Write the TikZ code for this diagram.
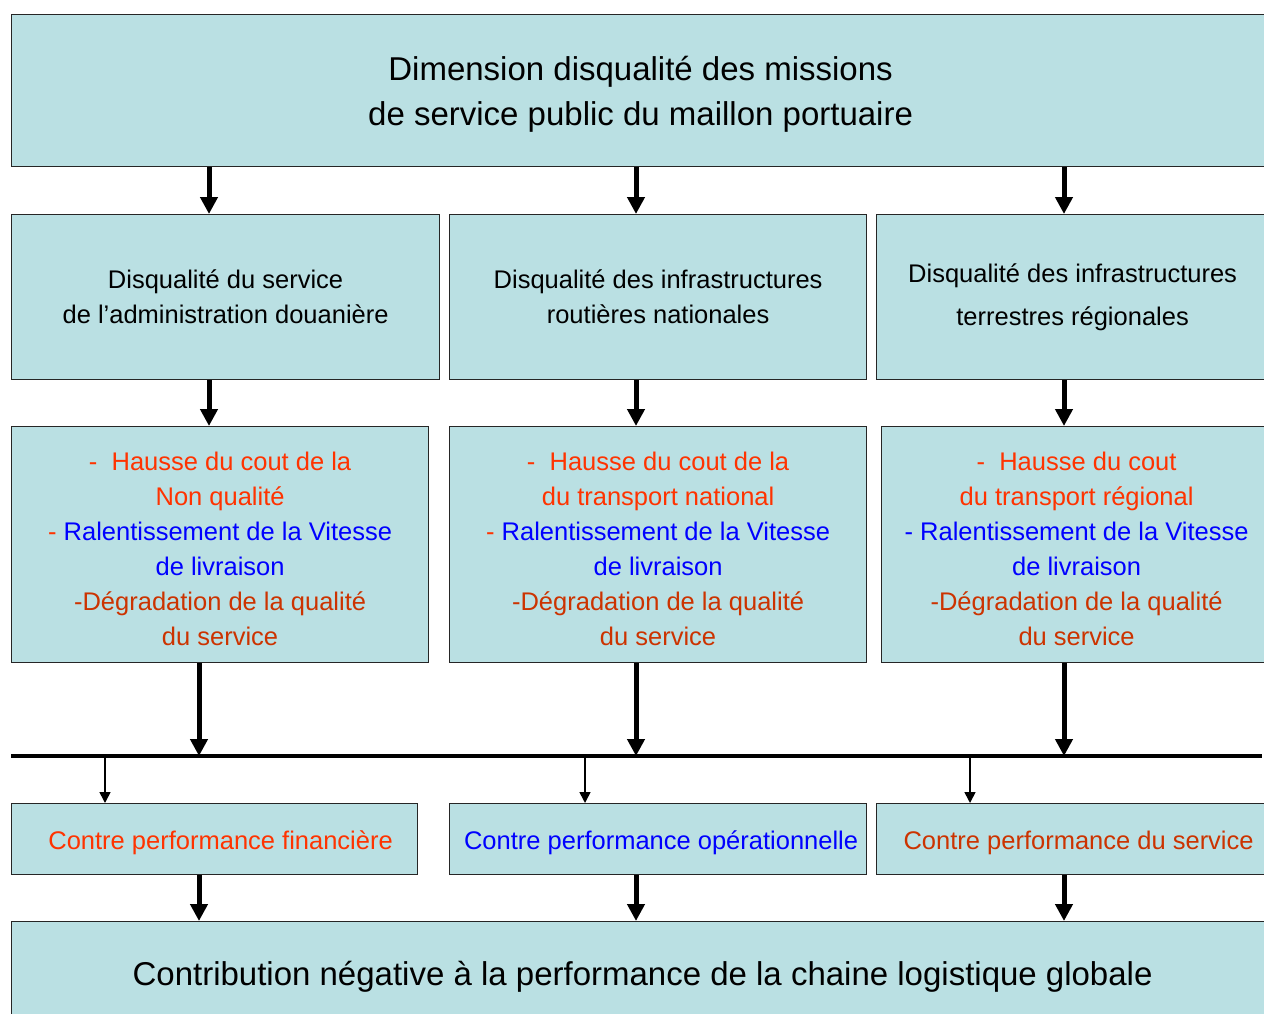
\documentclass[tikz,border=0pt]{standalone}
\usepackage{fontspec}
\setmainfont{Liberation Sans}
\usetikzlibrary{arrows.meta}
\definecolor{boxfill}{RGB}{186,224,227}
\definecolor{redA}{RGB}{255,51,0}
\definecolor{redB}{RGB}{204,51,0}
\definecolor{blueA}{RGB}{0,0,255}
\begin{document}
\begin{tikzpicture}[x=1pt,y=-1pt,
  box/.style={draw=black!85,line width=1.2pt,fill=boxfill,inner sep=0pt,align=center,anchor=north west},
  big/.style={font=\fontsize{33}{45}\selectfont},
  mid/.style={font=\fontsize{25.5}{35}\selectfont},
  lower/.style={execute at begin node={\rule{0pt}{#1}}},
  thickarr/.style={line width=5pt,-{Triangle[length=17pt,width=17pt]}},
  thinarr/.style={line width=1.6pt,-{Triangle[length=11pt,width=11pt]}},
  bus/.style={line width=4.5pt}]
\useasboundingbox (0,0) rectangle (1264,1014);
\clip (0,0) rectangle (1264,1014);
\fill[white] (0,0) rectangle (1264,1014);
% boxes
\node[box,big,minimum width=1258pt,minimum height=152pt] (top) at (11,14)
  {\rule{0pt}{32pt}Dimension disqualité des missions\\de service public du maillon portuaire};
\node[box,mid,minimum width=428pt,minimum height=165pt] (r2a) at (11,214)
  {Disqualité du service\\de l’administration douanière};
\node[box,mid,minimum width=417pt,minimum height=165pt] (r2b) at (449,214)
  {Disqualité des infrastructures\\routières nationales};
\node[box,font=\fontsize{25.5}{43}\selectfont,minimum width=392pt,minimum height=165pt] (r2c) at (876,214)
  {Disqualité des infrastructures\\terrestres régionales};
\node[box,mid,minimum width=417pt,minimum height=236pt] (r3a) at (11,426)
  {\rule{0pt}{28pt}{\color{redA}-\ \ Hausse du cout de la}\\{\color{redA}Non qualité}\\{\color{redA}-} {\color{blueA}Ralentissement de la Vitesse}\\{\color{blueA}de livraison}\\{\color{redB}-Dégradation de la qualité}\\{\color{redB}du service}};
\node[box,mid,minimum width=417pt,minimum height=236pt] (r3b) at (449,426)
  {\rule{0pt}{28pt}{\color{redA}-\ \ Hausse du cout de la}\\{\color{redA}du transport national}\\{\color{redA}-} {\color{blueA}Ralentissement de la Vitesse}\\{\color{blueA}de livraison}\\{\color{redB}-Dégradation de la qualité}\\{\color{redB}du service}};
\node[box,mid,minimum width=390pt,minimum height=236pt] (r3c) at (881,426)
  {\rule{0pt}{28pt}{\color{redA}-\ \ Hausse du cout}\\{\color{redA}du transport régional}\\{\color{blueA}- Ralentissement de la Vitesse}\\{\color{blueA}de livraison}\\{\color{redB}-Dégradation de la qualité}\\{\color{redB}du service}};
\node[box,mid,lower=27pt,minimum width=406pt,minimum height=71pt] (r4a) at (11,803)
  {\hspace*{12pt}{\color{redA}Contre performance financière}};
\node[box,mid,lower=27pt,minimum width=417pt,minimum height=71pt] (r4b) at (449,803)
  {\hspace*{6pt}{\color{blueA}Contre performance opérationnelle}};
\node[box,mid,lower=27pt,minimum width=404pt,minimum height=71pt] (r4c) at (876,803)
  {{\color{redB}Contre performance du service}};
\node[box,big,lower=31pt,minimum width=1262pt,minimum height=104pt] (bot) at (11,921)
  {Contribution négative à la performance de la chaine logistique globale};
% arrow columns
\coordinate (xa) at (209,0);
\coordinate (xb) at (636,0);
\coordinate (xc) at (1064,0);
\coordinate (ya) at (199,0);
\coordinate (ta) at (105,0);
\coordinate (tb) at (585,0);
\coordinate (tc) at (970,0);
\coordinate (busL) at (11,756);
\coordinate (busR) at (1262,756);
% top -> row 2
\draw[thickarr] (top.south -| xa) -- (r2a.north -| xa);
\draw[thickarr] (top.south -| xb) -- (r2b.north -| xb);
\draw[thickarr] (top.south -| xc) -- (r2c.north -| xc);
% row 2 -> row 3
\draw[thickarr] (r2a.south -| xa) -- (r3a.north -| xa);
\draw[thickarr] (r2b.south -| xb) -- (r3b.north -| xb);
\draw[thickarr] (r2c.south -| xc) -- (r3c.north -| xc);
% bus
\draw[bus] (busL) -- (busR);
% row 3 -> bus
\draw[thickarr] (r3a.south -| ya) -- (busL -| ya);
\draw[thickarr] (r3b.south -| xb) -- (busL -| xb);
\draw[thickarr] (r3c.south -| xc) -- (busL -| xc);
% bus -> row 4
\draw[thinarr] (busL -| ta) -- (r4a.north -| ta);
\draw[thinarr] (busL -| tb) -- (r4b.north -| tb);
\draw[thinarr] (busL -| tc) -- (r4c.north -| tc);
% row 4 -> bottom
\draw[thickarr] (r4a.south -| ya) -- (bot.north -| ya);
\draw[thickarr] (r4b.south -| xb) -- (bot.north -| xb);
\draw[thickarr] (r4c.south -| xc) -- (bot.north -| xc);
\end{tikzpicture}
\end{document}
